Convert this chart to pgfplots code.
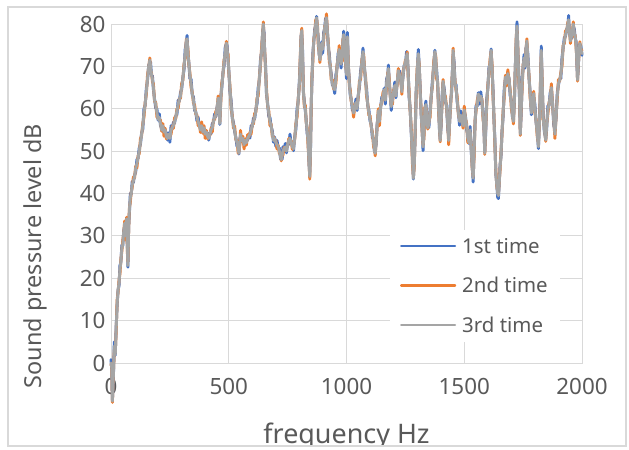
\documentclass[border=0pt]{standalone}
\usepackage{fontspec}
\setmainfont{Noto Sans}
\usepackage{pgfplots}
\usepackage{pgfplotstable}
\pgfplotsset{compat=1.18}
\definecolor{c1}{HTML}{4472C4}
\definecolor{c2}{HTML}{ED7D31}
\definecolor{c3}{HTML}{A5A5A5}
\definecolor{gridc}{HTML}{D9D9D9}
\definecolor{txt}{HTML}{595959}
\pgfplotstableread{
x a b c
0 0.8 -0.6 0
3 -1.4 -0.1 -1
6 -8.7 -9.3 -9
10 -3.9 -2.5 -3
14 5.0 3.0 4
18 1.8 2.4 2
22 8.8 7.4 8
26 13.6 14.9 14
30 17.3 16.7 17
34 18.1 19.5 19
38 23.0 21.0 22
42 23.8 24.4 24
46 27.8 26.4 27
50 27.6 28.9 28
54 31.3 30.7 31
58 32.1 33.5 33
62 31.0 29.0 30
66 33.8 34.4 34
70 26.8 25.4 26
72 22.6 23.9 23
75 32.3 31.7 32
78 35.1 36.5 36
82 40.0 38.0 39
86 39.8 40.4 40
90 42.8 41.4 42
95 42.6 43.9 43
100 44.3 43.7 44
105 45.1 46.5 46
110 48.0 46.0 47
115 48.3 48.9 48.5
120 50.8 49.4 50
125 51.6 52.9 52
130 54.3 53.7 54
135 55.1 56.5 56
140 60.0 58.0 59
145 60.8 61.4 61
150 64.8 63.4 64
155 66.6 67.9 67
160 70.3 69.7 70
165 70.6 72.0 71.5
168 71.0 69.0 70
172 67.8 68.4 68
176 67.8 66.4 67
180 64.6 65.9 65
185 62.3 61.7 62
190 60.1 61.5 61
195 60.0 58.0 59
200 57.3 57.9 57.5
205 58.8 57.4 58
210 56.1 57.4 56.5
215 55.3 54.7 55
220 55.1 56.5 56
225 55.5 53.5 54.5
230 54.8 55.4 55
235 54.3 52.9 53.5
240 52.6 53.9 53
245 54.3 53.7 54
250 52.1 53.5 53
255 56.0 54.0 55
260 55.3 55.9 55.5
265 56.8 55.4 56
270 56.6 57.9 57
275 58.3 57.7 58
280 58.6 60.0 59.5
285 62.0 60.0 61
290 61.8 62.4 62
295 63.8 62.4 63
300 64.6 65.9 65
305 67.3 66.7 67
310 69.1 70.5 70
315 74.0 72.0 73
320 75.8 76.4 76
323 77.3 75.9 76.5
327 72.6 73.9 73
330 71.3 70.7 71
335 67.1 68.5 68
340 67.0 65.0 66
345 63.3 63.9 63.5
350 62.8 61.4 62
355 59.6 60.9 60
360 59.3 58.7 59
365 57.1 58.5 58
370 58.0 56.0 57
375 55.8 56.4 56
380 55.8 54.4 55
385 55.6 56.9 56
390 54.8 54.2 54.5
395 54.6 56.0 55.5
400 55.0 53.0 54
405 54.3 54.9 54.5
410 54.3 52.9 53.5
415 52.6 53.9 53
420 54.3 53.7 54
425 54.1 55.5 55
430 56.5 54.5 55.5
435 56.8 57.4 57
440 58.8 57.4 58
445 58.1 59.4 58.5
450 60.3 59.7 60
455 61.6 63.0 62.5
458 62.0 60.0 61
462 56.3 56.9 56.5
466 62.8 61.4 62
470 64.6 65.9 65
475 68.3 67.7 68
480 70.1 71.5 71
485 74.5 72.5 73.5
490 75.3 75.9 75.5
493 74.8 73.4 74
497 71.6 72.9 72
500 69.3 68.7 69
505 64.1 65.5 65
510 62.0 60.0 61
515 57.8 58.4 58
520 56.8 55.4 56
525 54.6 55.9 55
530 53.3 52.7 53
535 51.1 52.5 52
540 51.5 49.5 50.5
543 49.3 49.9 49.5
547 52.8 51.4 52
550 53.6 54.9 54
555 52.8 52.2 52.5
560 52.1 53.5 53
565 52.5 50.5 51.5
570 52.3 52.9 52.5
575 52.8 51.4 52
580 52.6 53.9 53
585 53.8 53.2 53.5
590 53.1 54.5 54
595 56.0 54.0 55
600 55.8 56.4 56
605 57.8 56.4 57
610 57.6 58.9 58
615 59.8 59.2 59.5
620 61.1 62.5 62
625 65.0 63.0 64
630 66.8 67.4 67
635 71.8 70.4 71
640 73.6 74.9 74
644 78.3 77.7 78
647 79.1 80.5 80
650 78.0 76.0 77
653 72.8 73.4 73
656 70.8 69.4 70
660 63.6 64.9 64
665 61.3 60.7 61
670 58.1 59.5 59
675 58.0 56.0 57
680 55.8 56.4 56
685 54.8 53.4 54
690 52.1 53.4 52.5
695 53.3 52.7 53
700 51.1 52.5 52
705 52.5 50.5 51.5
710 50.8 51.4 51
715 50.8 49.4 50
720 48.1 49.4 48.5
723 48.3 47.7 48
727 48.1 49.5 49
730 51.0 49.0 50
735 50.3 50.9 50.5
740 51.8 50.4 51
745 49.6 50.9 50
750 51.8 51.2 51.5
755 51.6 53.0 52.5
760 54.0 52.0 53
765 51.8 52.4 52
770 51.8 50.4 51
775 50.1 51.4 50.5
780 53.3 52.7 53
785 55.1 56.5 56
790 60.0 58.0 59
795 61.8 62.4 62
800 66.8 65.4 66
804 71.6 72.9 72
807 77.3 76.7 77
810 77.6 79.0 78.5
813 75.0 73.0 74
817 63.8 64.4 64
821 61.8 60.4 61
825 59.6 60.9 60
829 57.3 56.7 57
833 54.1 55.5 55
837 53.0 51.0 52
841 46.8 47.4 47
844 44.8 43.4 44
847 49.6 50.9 50
850 60.3 59.7 60
853 66.1 67.5 67
857 73.0 71.0 72
861 75.8 76.4 76
865 78.8 77.4 78
869 79.6 80.9 80
873 81.8 81.2 81.5
877 78.1 79.5 79
880 77.0 75.0 76
884 72.8 73.4 73
887 72.3 70.9 71.5
891 72.6 73.9 73
895 75.8 75.2 75.5
899 73.1 74.5 74
903 78.0 76.0 77
907 78.8 79.4 79
911 81.3 79.9 80.5
915 81.1 82.4 81.5
919 78.3 77.7 78
923 74.1 75.5 75
927 73.0 71.0 72
931 69.8 70.4 70
935 68.3 66.9 67.5
940 65.6 66.9 66
945 65.3 64.7 65
950 63.6 65.0 64.5
955 68.0 66.0 67
960 69.8 70.4 70
965 73.3 71.9 72.5
969 73.6 74.9 74
973 72.3 71.7 72
977 69.6 71.0 70.5
981 73.0 71.0 72
985 75.8 76.4 76
988 78.3 76.9 77.5
992 73.6 74.9 74
996 71.3 70.7 71
1000 67.1 68.5 68
1004 78.0 76.0 77
1008 69.8 70.4 70
1012 66.8 65.4 66
1016 63.1 64.4 63.5
1020 62.3 61.7 62
1025 59.6 61.0 60.5
1030 60.0 58.0 59
1035 59.8 60.4 60
1040 62.3 60.9 61.5
1045 59.6 60.9 60
1050 63.3 62.7 63
1055 65.1 66.5 66
1060 69.0 67.0 68
1065 70.8 71.4 71
1070 74.3 72.9 73.5
1073 71.6 72.9 72
1077 69.3 68.7 69
1081 66.1 67.5 67
1085 65.0 63.0 64
1090 60.8 61.4 61
1095 59.8 58.4 59
1100 57.1 58.4 57.5
1105 56.3 55.7 56
1110 53.1 54.5 54
1115 53.0 51.0 52
1119 49.8 50.4 50
1122 50.3 48.9 49.5
1126 51.6 52.9 52
1130 56.3 55.7 56
1135 58.6 60.0 59.5
1140 58.0 56.0 57
1145 60.3 60.9 60.5
1150 62.8 61.4 62
1155 62.6 63.9 63
1160 64.8 64.2 64.5
1165 61.1 62.5 62
1170 67.0 65.0 66
1175 67.8 68.4 68
1178 70.3 68.9 69.5
1182 65.6 66.9 66
1186 63.3 62.7 63
1190 59.6 61.0 60.5
1195 63.0 61.0 62
1200 63.8 64.4 64
1205 66.3 64.9 65.5
1210 62.6 63.9 63
1215 66.3 65.7 66
1220 68.1 69.5 69
1225 69.0 67.0 68
1230 66.8 67.4 67
1235 64.8 63.4 64
1240 67.6 68.9 68
1245 70.3 69.7 70
1250 70.1 71.5 71
1255 73.5 71.5 72.5
1258 72.8 73.4 73
1262 68.8 67.4 68
1266 62.6 63.9 63
1270 60.3 59.7 60
1275 54.1 55.5 55
1280 49.0 47.0 48
1284 43.4 44.0 43.6
1288 47.8 46.4 47
1292 54.6 55.9 55
1296 64.3 63.7 64
1300 68.1 69.5 69
1305 74.0 72.0 73
1309 69.8 70.4 70
1313 64.8 63.4 64
1317 58.6 59.9 59
1321 55.3 54.7 55
1325 50.1 51.5 51
1329 55.0 53.0 54
1333 59.8 60.4 60
1337 61.8 60.4 61
1341 57.6 58.9 58
1345 55.8 55.2 55.5
1350 55.6 57.0 56.5
1355 60.0 58.0 59
1360 62.8 63.4 63
1365 66.8 65.4 66
1370 69.6 70.9 70
1375 73.8 73.2 73.5
1379 71.1 72.5 72
1383 69.0 67.0 68
1387 65.8 66.4 66
1391 60.8 59.4 60
1395 54.6 55.9 55
1398 52.8 52.2 52.5
1402 56.1 57.5 57
1406 63.0 61.0 62
1410 66.3 66.9 66.5
1415 64.8 63.4 64
1420 61.6 62.9 62
1425 60.8 60.2 60.5
1430 55.1 56.5 56
1434 53.5 51.5 52.5
1438 56.8 57.4 57
1442 61.8 60.4 61
1446 63.6 64.9 64
1450 69.3 68.7 69
1453 72.9 74.3 73.8
1457 71.0 69.0 70
1461 65.8 66.4 66
1465 65.8 64.4 65
1470 61.6 62.9 62
1475 59.3 58.7 59
1480 56.1 57.5 57
1485 59.5 57.5 58.5
1490 56.8 57.4 57
1495 56.8 55.4 56
1500 59.3 60.6 59.7
1505 58.3 57.7 58
1510 55.1 56.5 56
1515 54.0 52.0 53
1520 51.8 52.4 52
1525 55.8 54.4 55
1530 49.6 50.9 50
1534 46.3 45.7 46
1538 42.7 44.0 43.6
1542 51.0 49.0 50
1546 56.8 57.4 57
1550 60.8 59.4 60
1555 60.6 61.9 61
1560 63.8 63.2 63.5
1565 61.1 62.5 62
1570 64.0 62.0 63
1575 61.8 62.4 62
1580 58.8 57.4 58
1584 54.6 55.9 55
1587 49.8 49.2 49.5
1591 54.1 55.5 55
1595 62.0 60.0 61
1600 64.8 65.4 65
1605 69.8 68.4 69
1610 70.6 71.9 71
1614 74.1 73.5 73.8
1618 69.1 70.5 70
1622 65.0 63.0 64
1626 57.8 58.4 58
1630 52.8 51.4 52
1634 44.6 45.9 45
1638 42.3 41.7 42
1642 39.1 40.5 40
1645 38.8 39.8 39.5
1648 41.8 42.4 42
1652 46.8 45.4 46
1656 48.6 49.9 49
1660 54.3 53.7 54
1665 58.1 59.5 59
1670 65.0 63.0 64
1675 67.3 67.9 67.5
1680 66.8 65.4 66
1685 67.9 69.2 68.3
1690 67.3 66.7 67
1695 63.1 64.5 64
1700 62.0 60.0 61
1705 57.8 58.4 58
1709 57.8 56.4 57
1713 61.6 62.9 62
1717 70.3 69.7 70
1721 76.1 77.5 77
1724 80.5 78.5 79.5
1727 74.8 75.4 75
1731 68.8 67.4 68
1735 61.6 62.9 62
1738 54.3 53.7 54
1742 59.1 60.5 60
1746 67.0 65.0 66
1750 69.8 70.4 70
1754 72.8 71.4 72
1758 69.6 70.9 70
1762 74.3 73.7 74
1766 75.1 76.5 76
1770 73.0 71.0 72
1775 67.3 67.9 67.5
1780 63.8 62.4 63
1785 58.6 59.9 59
1790 61.3 60.7 61
1795 62.7 64.1 63.6
1800 61.0 59.0 60
1805 56.8 57.4 57
1810 54.8 53.4 54
1815 50.6 51.9 51
1820 58.3 57.7 58
1824 66.1 67.5 67
1827 74.8 72.8 73.8
1831 65.8 66.4 66
1835 58.8 57.4 58
1840 54.6 55.9 55
1846 52.9 52.3 52.6
1850 55.1 56.5 56
1855 60.7 58.7 59.7
1860 60.8 61.4 61
1865 63.8 62.4 63
1870 64.6 65.9 65
1875 61.3 60.7 61
1880 56.1 57.5 57
1885 55.0 53.0 54
1890 57.8 58.4 58
1895 63.8 62.4 63
1900 65.6 66.9 66
1905 67.1 66.5 66.8
1910 67.1 68.5 68
1915 72.0 70.0 71
1920 74.4 75.0 74.6
1925 76.8 75.4 76
1930 77.1 78.4 77.5
1935 78.8 78.2 78.5
1940 79.1 80.5 80
1943 82.0 80.0 81
1947 77.8 78.4 78
1951 76.8 75.4 76
1955 76.6 77.9 77
1959 78.3 77.7 78
1963 79.1 80.5 80
1967 79.0 77.0 78
1971 76.8 77.4 77
1975 75.8 74.4 75
1979 69.6 70.9 70
1981 67.1 66.5 66.8
1984 69.1 70.5 70
1988 75.0 73.0 74
1991 75.2 75.8 75.4
1995 74.8 73.4 74
2000 72.6 73.9 73
}\spl
\begin{document}
\begin{tikzpicture}
\path[use as bounding box] (0,0) rectangle (629bp,450bp);
\begin{axis}[
  at={(111bp,87bp)}, anchor=south west,
  width=471bp, height=339bp, scale only axis,
  xmin=0, xmax=2000, ymin=0, ymax=80,
  xtick={0,500,1000,1500,2000},
  ytick={0,10,20,30,40,50,60,70,80},
  grid=major,
  major grid style={draw=gridc, line width=0.9bp},
  axis line style={draw=gridc, line width=0.9bp},
  major tick length=0pt,
  clip=false,
  /pgf/number format/assume math mode=true,
  /pgf/number format/set thousands separator={},
  tick label style={font=\fontsize{22.5}{26}\selectfont, text=txt},
  yticklabel style={xshift=-2bp},
  xticklabel style={yshift=-12bp},
  xlabel={frequency Hz},
  ylabel={Sound pressure level dB},
  xlabel style={font=\fontsize{27}{30}\selectfont, text=txt, at={(axis description cs:0.5,-0.238)}, anchor=base},
  ylabel style={font=\fontsize{23.5}{27}\selectfont, text=txt, at={(axis description cs:-0.1614,0.315)}, anchor=center},
  legend cell align=left,
  legend style={at={(0.592,0.393)}, anchor=north west, draw=none, fill=white,
    font=\fontsize{20.5}{24}\selectfont, text=txt,
    inner xsep=10bp, inner ysep=6bp, row sep=18.5bp, column sep=4bp},
  legend image code/.code={\draw[#1, line width=2.2bp] (0bp,0bp) -- (54bp,0bp);},
  every axis plot/.append style={line width=2.9bp, line join=round, line cap=round},
]
\addplot[c1] table[x=x, y=a] {\spl};
\addplot[c2] table[x=x, y=b] {\spl};
\addplot[c3] table[x=x, y=c] {\spl};
\legend{1st time, 2nd time, 3rd time}
\end{axis}
\fill[white] (0,0) rectangle (629bp,4bp);
\draw[gridc, line width=1.2bp] (8bp,4bp) rectangle (626bp,443bp);
\end{tikzpicture}
\end{document}
